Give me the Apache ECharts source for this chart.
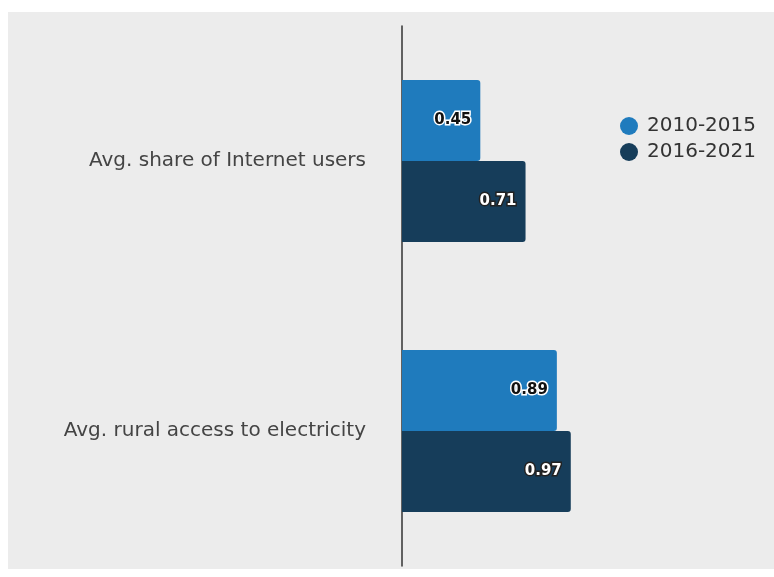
<!DOCTYPE html>
<html><head><meta charset="utf-8">
<script src="https://cdn.jsdelivr.net/npm/echarts@6/dist/echarts.min.js"></script>
<style>html,body{margin:0;padding:0;background:#fff}#c{width:774px;height:577px}</style>
</head><body><div id="c"></div>
<script>
const categories = ["Avg. share of Internet users", "Avg. rural access to electricity"];
const seriesNames = ["2010-2015", "2016-2021"];
const values2010 = [0.45, 0.89];
const values2016 = [0.71, 0.97];
const colors = ["#1f7bbd", "#163d5a"];
const FONT = "'DejaVu Sans', sans-serif";

const chart = echarts.init(document.getElementById('c'), null, {renderer: 'canvas'});
function mkSeries(name, data, color, labelColor, borderColor) {
  return {
    name: name, type: 'bar', data: data, barGap: '0%', barCategoryGap: '40%',
    itemStyle: {color: color, borderRadius: [0, 3, 3, 0]},
    label: {show: true, position: 'insideRight', distance: 9, formatter: p => p.value.toFixed(2),
      color: labelColor, textBorderColor: borderColor, textBorderWidth: 3,
      fontFamily: FONT, fontWeight: 'bold', fontSize: 15}
  };
}
chart.setOption({
  animation: false,
  backgroundColor: '#fff',
  color: colors,
  graphic: [{type: 'rect', z: -10, silent: true, shape: {x: 8, y: 12, width: 766, height: 557}, style: {fill: '#ececec'}}],
  legend: {
    orient: 'vertical', left: 615, top: 111, icon: 'circle', itemWidth: 18, itemHeight: 18, itemGap: 6,
    textStyle: {fontSize: 20, color: '#333', fontFamily: FONT, padding: [0, 0, 0, 4]},
    data: seriesNames
  },
  grid: {left: 402, top: 26, width: 174, height: 540, containLabel: false},
  xAxis: {type: 'value', min: 0, max: 1, show: false},
  yAxis: {type: 'category', data: categories, inverse: true,
    axisLine: {show: true, lineStyle: {color: '#333', width: 1.5}},
    axisTick: {show: false},
    axisLabel: {margin: 36, fontSize: 20, color: '#444', fontFamily: FONT}
  },
  series: [
    mkSeries(seriesNames[0], values2010, colors[0], '#111', '#fff'),
    mkSeries(seriesNames[1], values2016, colors[1], '#fff', '#222')
  ]
});
</script></body></html>
